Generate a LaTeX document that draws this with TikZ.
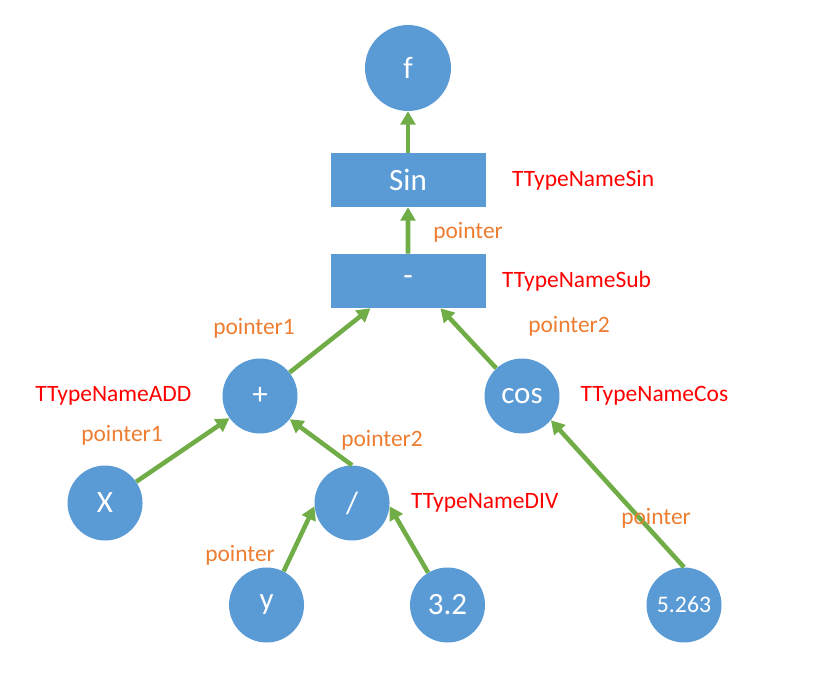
\documentclass[tikz,border=0pt]{standalone}
\usepackage{fontspec}
\setmainfont{Carlito}
\usetikzlibrary{positioning,arrows.meta}
\definecolor{nodeblue}{HTML}{5B9BD5}
\definecolor{linkgreen}{HTML}{70AD47}
\definecolor{ptrorange}{HTML}{ED7D31}
\definecolor{namered}{HTML}{FF0000}
\tikzset{
  ball/.style={circle, fill=nodeblue, minimum size=56.25pt, inner sep=0pt,
    text=white, font=\fontsize{23.25}{24}\selectfont},
  opbox/.style={rectangle, fill=nodeblue, minimum width=116.25pt,
    minimum height=40.5pt, inner sep=0pt, text=white,
    font=\fontsize{23.25}{24}\selectfont},
  ptrlabel/.style={inner sep=0pt, anchor=west, text=ptrorange,
    font=\fontsize{17.6}{20}\selectfont},
  namelabel/.style={inner sep=0pt, text=namered,
    font=\fontsize{17.6}{20}\selectfont}
}
\begin{document}
\begin{tikzpicture}[x=0.75pt, y=-0.75pt,
    edge from parent/.style={draw=linkgreen, line width=3.4pt,
      arrows={Triangle[length=10pt,width=11pt]-}}]
  \useasboundingbox (0,0) rectangle (817,682);
  \tikzstyle{level 1}=[level distance=84pt]
  \tikzstyle{level 2}=[level distance=75.75pt]
  \tikzstyle{level 3}=[level distance=86.25pt, sibling distance=196.5pt]
  \tikzstyle{level 4}=[level distance=80.25pt, sibling distance=185.25pt]
  \tikzstyle{level 5}=[level distance=76.5pt, sibling distance=135.75pt]
  \node[ball, minimum size=64.5pt] (f) at (408,68) {f}
    child {node[opbox] (sin) {Sin}
      child {node[opbox] (sub) {-}
        child[xshift=-12.75pt, parent anchor=-144.4] {node[ball] (plus) {+}
          child[xshift=-23.6pt] {node[ball] (x) {X}
          }
          child[xshift=-23.6pt, parent anchor=-38.4, child anchor=north] {node[ball] (div) {/}
            child[xshift=3.75pt, parent anchor=185, child anchor=63] {node[ball] (y) {y}
            }
            child[xshift=3.75pt, parent anchor=-5, child anchor=121] {node[ball] (three) {3.2}
            }
          }
        }
        child[xshift=-12.75pt, parent anchor=-40.5] {node[ball] (cos) {cos}
          child[xshift=121.5pt, level distance=156.75pt, child anchor=north]
            {node[ball, font=\fontsize{17.8}{20}\selectfont] (num) {5.263}
          }
        }
      }
    };
  % type names
  \node[namelabel, right=19.5pt of sin] (sinname) {TTypeNameSin};
  \node[namelabel, right=12pt of sub] (subname) {TTypeNameSub};
  \node[namelabel, left=23pt of plus] (addname) {TTypeNameADD};
  \node[namelabel, right=15.4pt of cos] (cosname) {TTypeNameCos};
  \node[namelabel, right=15.75pt of div] (divname) {TTypeNameDIV};
  % pointer labels
  \node[ptrlabel] (ptrsin) at (433,232) {pointer};
  \node[ptrlabel] (ptrplus) at (213,328) {pointer1};
  \node[ptrlabel] (ptrcos) at (528,326) {pointer2};
  \node[ptrlabel] (ptrx) at (81,435) {pointer1};
  \node[ptrlabel] (ptrdiv) at (341,440) {pointer2};
  \node[ptrlabel] (ptry) at (205,555) {pointer};
  \node[ptrlabel] (ptrnum) at (621,518) {pointer};
\end{tikzpicture}
\end{document}
